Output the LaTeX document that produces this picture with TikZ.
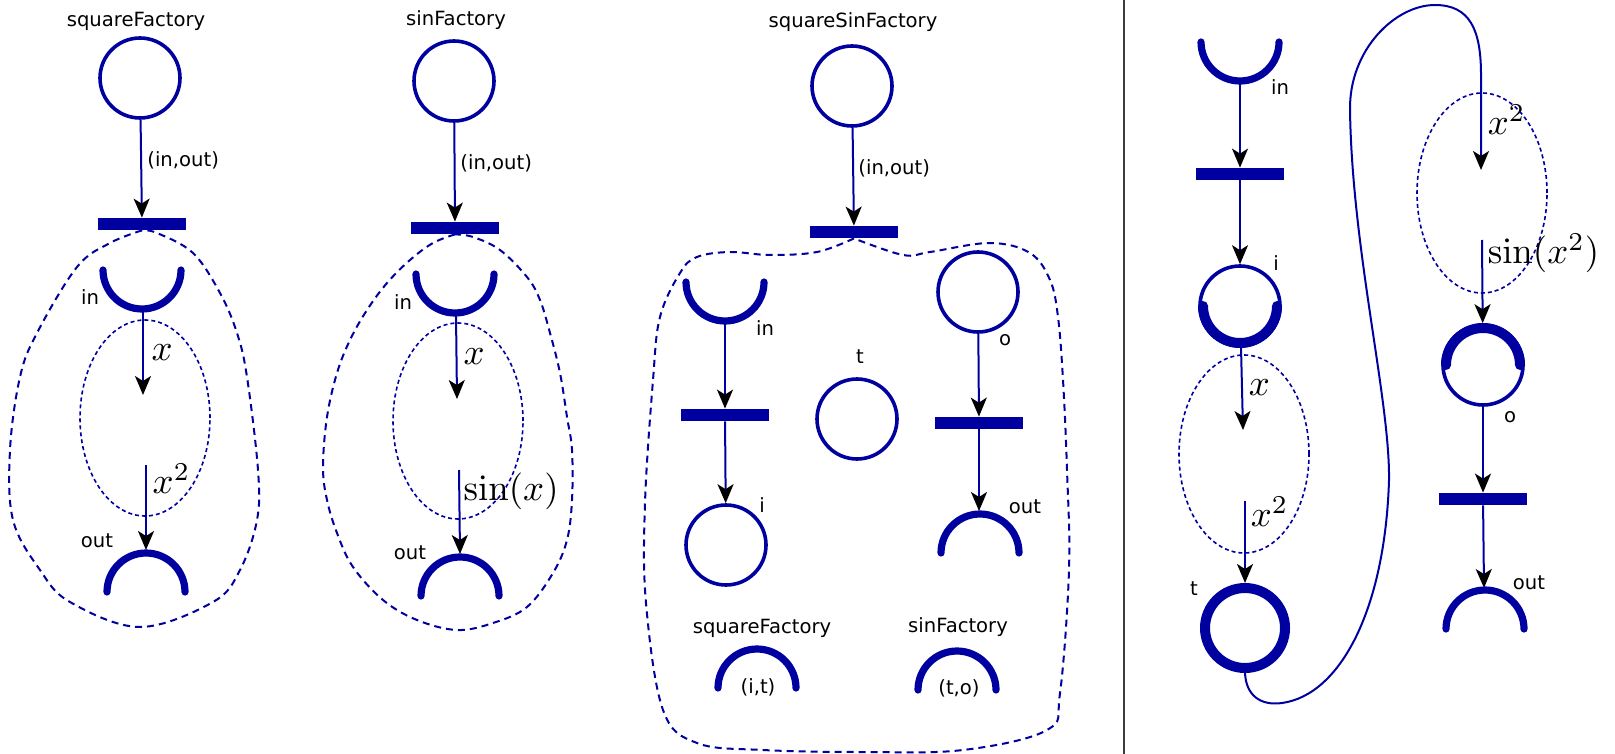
\documentclass[tikz,border=0pt]{standalone}
\usepackage[no-math]{fontspec}
\newfontfamily\labfont{DejaVu Sans}
\usetikzlibrary{arrows.meta}
\definecolor{pn}{RGB}{0,0,160}
\definecolor{divc}{RGB}{60,60,60}
\begin{document}
\begin{tikzpicture}[x=0.5pt,y=-0.5pt,
  place/.style={circle,draw=pn,line width=1.8pt,minimum size=40pt,inner sep=0pt},
  bar/.style={rectangle,fill=pn,minimum width=44pt,minimum height=6pt,inner sep=0pt},
  arr/.style={draw=pn,line width=1pt,-{Stealth[length=9.5pt,width=8pt,inset=2.5pt,color=black]}},
  tarc/.style={draw=pn,line width=3.6pt,line cap=round},
  harc/.style={draw=pn,line width=5pt,line cap=round},
  lab/.style={font=\labfont\fontsize{9.8}{12}\selectfont,inner sep=0pt},
  mlab/.style={font=\fontsize{10}{12}\selectfont,scale=1.84,inner sep=0pt,anchor=west},
  outerblob/.style={draw=pn,line width=1pt,dash pattern=on 3.5pt off 2.5pt},
  innerblob/.style={draw=pn,line width=0.8pt,dash pattern=on 2pt off 1.5pt},
]
\useasboundingbox (0,0) rectangle (1615,754);

% ---------------- Panel 1: squareFactory
\node[lab] (t1) at (136,21) {squareFactory};
\node[place] (A1) at (140,78) {};
\node[bar] (B1) at (142,224) {};
\draw[arr] (A1) -- (B1);
\node[lab,anchor=west] (l1) at (147,160) {(in,out)};
\coordinate (in1) at (142,270);
\coordinate (in1b) at (143,311);
\draw[tarc] (in1) ++(-19.5pt,0) arc[start angle=180,end angle=360,radius=19.5pt];
\node[lab] (lin1) at (90,297) {in};
\draw[innerblob] (145,418) ellipse [x radius=32.5pt, y radius=49pt];
\coordinate (x1e) at (143,395);
\draw[arr] (in1b) -- (x1e);
\node[mlab] (mx1) at (151,353) {$x$};
\coordinate (x1s) at (146,465);
\coordinate (out1) at (146,592);
\coordinate (out1t) at (146,550);
\draw[arr] (x1s) -- (out1t);
\node[mlab] (mx1b) at (152,479) {$x^2$};
\draw[tarc] (out1) ++(-19.5pt,0) arc[start angle=180,end angle=0,radius=19.5pt];
\node[lab] (lout1) at (97,541) {out};
\draw[outerblob] plot[smooth,tension=0.6] coordinates {(B1.south) (110,243) (77,267) (37,333) (20,377) (10,450) (13,520) (40,570) (70,602) (140,627) (213,602) (240,570) (257,520) (258,470) (247,377) (237,333) (220,293) (193,253) (157,233) (B1.south)};

% ---------------- Panel 2: sinFactory
\node[lab] (t2) at (456,20) {sinFactory};
\node[place] (A2) at (454,81) {};
\node[bar] (B2) at (455,228) {};
\draw[arr] (A2) -- (B2);
\node[lab,anchor=west] (l2) at (460,163) {(in,out)};
\coordinate (in2) at (455,274);
\coordinate (in2b) at (456,315);
\draw[tarc] (in2) ++(-19.5pt,0) arc[start angle=180,end angle=360,radius=19.5pt];
\node[lab] (lin2) at (403,302) {in};
\draw[innerblob] (458,421) ellipse [x radius=32.5pt, y radius=49pt];
\coordinate (x2e) at (457,399);
\draw[arr] (in2b) -- (x2e);
\node[mlab] (mx2) at (463,357) {$x$};
\coordinate (x2s) at (459,470);
\coordinate (out2) at (460,596);
\coordinate (out2t) at (460,554);
\draw[arr] (x2s) -- (out2t);
\node[mlab] (ms2) at (463,491) {$\sin(x)$};
\draw[tarc] (out2) ++(-19.5pt,0) arc[start angle=180,end angle=0,radius=19.5pt];
\node[lab] (lout2) at (410,553) {out};
\draw[outerblob] plot[smooth,tension=0.6] coordinates {(B2.south) (433,243) (410,260) (387,283) (367,310) (350,340) (337,373) (327,417) (323,467) (327,500) (337,533) (353,567) (383,600) (417,620) (457,630) (493,623) (527,607) (553,573) (567,540) (572,500) (572,450) (567,417) (560,373) (550,333) (540,300) (527,277) (500,250) (473,237) (B2.south)};

% ---------------- Panel 3: squareSinFactory
\node[lab] (t3) at (853,22) {squareSinFactory};
\node[place] (A3) at (852,86) {};
\node[bar] (B3) at (854,232) {};
\draw[arr] (A3) -- (B3);
\node[lab,anchor=west] (l3) at (858,168) {(in,out)};
\coordinate (in3) at (725,282);
\coordinate (in3b) at (725,322);
\draw[tarc] (in3) ++(-19.5pt,0) arc[start angle=180,end angle=360,radius=19.5pt];
\node[lab] (lin3) at (765,328) {in};
\node[bar] (B3a) at (725,415) {};
\draw[arr] (in3b) -- (B3a);
\node[place] (i3) at (726,545) {};
\draw[arr] (B3a) -- (i3);
\node[lab] (li3) at (762,505) {i};
\node[place] (T3) at (857,419) {};
\node[lab] (lt3) at (860,357) {t};
\node[place] (o3) at (978,292) {};
\node[lab] (lo3) at (1005,340) {o};
\node[bar] (B3b) at (979,423) {};
\draw[arr] (o3) -- (B3b);
\coordinate (out3) at (980,553);
\coordinate (out3t) at (979,511);
\draw[arr] (B3b) -- (out3t);
\draw[tarc] (out3) ++(-19.5pt,0) arc[start angle=180,end angle=0,radius=19.5pt];
\node[lab] (lout3) at (1025,507) {out};
\node[lab] (sf3) at (762,628) {squareFactory};
\coordinate (sfa) at (757,688);
\draw[tarc] (sfa) ++(-19.5pt,0) arc[start angle=180,end angle=0,radius=19.5pt];
\node[lab] (it3) at (758,687) {(i,t)};
\node[lab] (sn3) at (958,627) {sinFactory};
\coordinate (sna) at (957,690);
\draw[tarc] (sna) ++(-19.5pt,0) arc[start angle=180,end angle=0,radius=19.5pt];
\node[lab] (to3) at (959,688) {(t,o)};
\draw[outerblob] plot[smooth,tension=0.6] coordinates {(B3.south) (817,252) (770,255) (730,252) (697,257) (680,273) (660,317) (653,380) (645,503) (646,603) (663,710) (697,743) (763,750) (863,752) (963,750) (1047,730) (1060,693) (1069,570) (1067,470) (1063,380) (1058,317) (1050,280) (1030,253) (990,243) (930,252) (903,255) (B3.south)};

% ---------------- divider
\coordinate (dv1) at (1124,0);
\coordinate (dv2) at (1124,754);
\draw[divc,line width=1pt] (dv1) -- (dv2);

% ---------------- Panel 4
\coordinate (in4) at (1240,42);
\coordinate (in4b) at (1240,82);
\draw[tarc] (in4) ++(-19.5pt,0) arc[start angle=180,end angle=360,radius=19.5pt];
\node[lab] (lin4) at (1280,87) {in};
\node[bar] (B4a) at (1240,174) {};
\draw[arr] (in4b) -- (B4a);
\node[place] (i4) at (1240,306) {};
\draw[harc] (i4.center) ++(-18.5pt,0) arc[start angle=180,end angle=360,radius=18.5pt];
\draw[arr] (B4a) -- (i4);
\node[lab] (li4) at (1276,263) {i};
\draw[innerblob] (1244,454) ellipse [x radius=32.5pt, y radius=49.5pt];
\coordinate (x4e) at (1243,430);
\draw[arr] (i4) -- (x4e);
\node[mlab] (mx4) at (1248,388) {$x$};
\coordinate (x4s) at (1245,501);
\node[place,line width=5pt] (T4) at (1245,628) {};
\draw[arr] (x4s) -- (T4);
\node[mlab] (mx4b) at (1250,512) {$x^2$};
\node[lab] (lt4) at (1194,589) {t};
\coordinate (x5e) at (1481,170);
\draw[arr] (T4.south) .. controls (1246,695) and (1260,706) .. (1282,703)
  .. controls (1340,695) and (1385,610) .. (1389,480)
  .. controls (1390,400) and (1352,250) .. (1350,110)
  .. controls (1349,50) and (1395,5) .. (1435,5)
  .. controls (1470,5) and (1481,30) .. (1481,75)
  -- (x5e);
\node[mlab] (mx5) at (1487,120) {$x^2$};
\draw[innerblob] (1482,193) ellipse [x radius=32.5pt, y radius=50pt];
\coordinate (x5s) at (1482,240);
\node[place] (o4) at (1483,365) {};
\draw[harc] (o4.center) ++(-18.5pt,0) arc[start angle=180,end angle=0,radius=18.5pt];
\draw[arr] (x5s) -- (o4);
\node[mlab] (ms5) at (1487,253) {$\sin(x^2)$};
\node[lab] (lo4) at (1510,417) {o};
\node[bar] (B4b) at (1483,499) {};
\draw[arr] (o4) -- (B4b);
\coordinate (out4) at (1485,629);
\coordinate (out4t) at (1484,588);
\draw[arr] (B4b) -- (out4t);
\draw[tarc] (out4) ++(-19.5pt,0) arc[start angle=180,end angle=0,radius=19.5pt];
\node[lab] (lout4) at (1529,583) {out};
\end{tikzpicture}
\end{document}
